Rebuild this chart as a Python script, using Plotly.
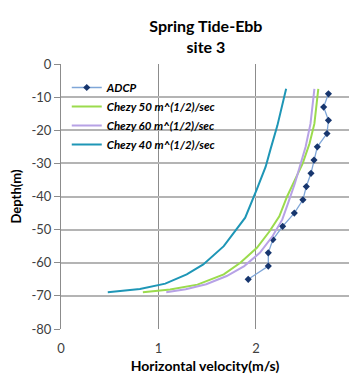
import plotly.graph_objects as go

adcp_v = [2.744, 2.695, 2.744, 2.729, 2.630, 2.596, 2.565, 2.517, 2.482, 2.394, 2.274, 2.174, 2.127, 2.127, 1.921]
adcp_d = [-9, -13, -17, -21, -25, -29, -33, -37, -41, -45, -49, -53, -57, -61, -65]

c50_v = [2.64, 2.60, 2.55, 2.48, 2.40, 2.32, 2.24, 2.14, 2.01, 1.84, 1.67, 1.40, 1.12, 0.84]
c50_d = [-7.5, -18, -24, -30, -35, -40, -46, -50.5, -55.5, -60, -63.5, -66.6, -68.1, -68.9]

c60_v = [2.60, 2.56, 2.51, 2.45, 2.40, 2.33, 2.27, 2.17, 2.04, 1.88, 1.70, 1.49, 1.28, 1.08]
c60_d = [-7.5, -18, -25, -31, -36, -42, -47, -52, -57, -61, -64, -66.5, -68, -68.9]

c40_v = [2.31, 2.26, 2.22, 2.15, 2.10, 2.01, 1.89, 1.67, 1.46, 1.29, 1.07, 0.81, 0.48]
c40_d = [-7.5, -14, -18.6, -25.7, -31, -37.8, -46.4, -55, -60.5, -63.5, -66.3, -67.9, -68.9]

y_ticks = [0, -10, -20, -30, -40, -50, -60, -70, -80]
x_ticks = [0, 1, 2]

FONT = "Lato, 'Open Sans', sans-serif"

fig = go.Figure()
fig.add_trace(go.Scatter(x=adcp_v, y=adcp_d, mode="lines+markers", name="ADCP",
                         line=dict(color="#7FA6D8", width=1.3),
                         marker=dict(symbol="diamond", size=5.5, color="#17366E")))
fig.add_trace(go.Scatter(x=c50_v, y=c50_d, mode="lines", name="Chezy 50 m^(1/2)/sec",
                         line=dict(color="#9BDB4D", width=2)))
fig.add_trace(go.Scatter(x=c60_v, y=c60_d, mode="lines", name="Chezy 60 m^(1/2)/sec",
                         line=dict(color="#B7A2E6", width=2)))
fig.add_trace(go.Scatter(x=c40_v, y=c40_d, mode="lines", name="Chezy 40 m^(1/2)/sec",
                         line=dict(color="#1E96B6", width=2)))

fig.update_layout(
    width=349, height=374,
    margin=dict(l=61, r=0, t=64, b=45, autoexpand=False),
    paper_bgcolor="white", plot_bgcolor="white",
    font=dict(family=FONT, color="#404040", size=13),
    title=dict(text="<b>Spring Tide-Ebb<br>site 3</b>", x=0.59, xanchor="center",
               y=0.914, yanchor="middle", yref="container",
               font=dict(family=FONT, size=16, color="#000000")),
    showlegend=True,
    legend=dict(x=0.02, y=0.966, xanchor="left", yanchor="top",
                bgcolor="rgba(0,0,0,0)",
                font=dict(family=FONT, size=11.5, color="#000000", weight="bold", style="italic"),
                tracegroupgap=0, itemwidth=30),
    xaxis=dict(range=[0, 2.955], tickvals=x_ticks, ticktext=[str(v) for v in x_ticks],
               showgrid=True, gridcolor="#8C8C8C", gridwidth=1,
               zeroline=False, showline=False, ticks="", ticklabelstandoff=10,
               title=dict(text="<b>Horizontal velocity(m/s)</b>", standoff=6,
                          font=dict(family=FONT, size=14, color="#000000")),
               fixedrange=True),
    yaxis=dict(range=[-80, 0], tickvals=y_ticks, ticktext=[str(v) for v in y_ticks],
               showgrid=True, gridcolor="#B4B4B4", gridwidth=2,
               zeroline=False, showline=True, linecolor="#8C8C8C", linewidth=1,
               ticks="outside", ticklen=6, tickcolor="#8C8C8C",
               title=dict(text="<b>Depth(m)</b>", standoff=6,
                          font=dict(family=FONT, size=13, color="#000000")),
               fixedrange=True),
)

fig.write_html("out.html")
